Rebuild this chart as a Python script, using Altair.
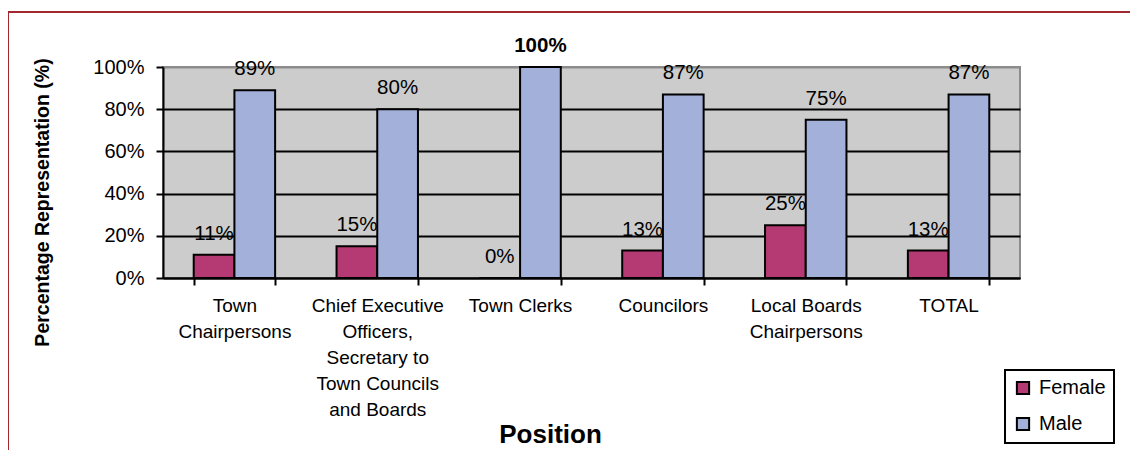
import altair as alt
import pandas as pd

categories = [
    "Town\nChairpersons",
    "Chief Executive\nOfficers,\nSecretary to\nTown Councils\nand Boards",
    "Town Clerks",
    "Councilors",
    "Local Boards\nChairpersons",
    "TOTAL",
]
female = [11, 15, 0, 13, 25, 13]
male = [89, 80, 100, 87, 75, 87]
series = ["Female", "Male"]
colors = ["#b53a73", "#a3b0da"]

rows = []
for c, f, m in zip(categories, female, male):
    rows.append({"position": c, "sex": "Female", "value": f})
    rows.append({"position": c, "sex": "Male", "value": m})
df = pd.DataFrame(rows)

FONT = "Liberation Sans"

x_enc = alt.X(
    "position:N",
    sort=categories,
    scale=alt.Scale(paddingInner=0.43, paddingOuter=0.215),
    axis=alt.Axis(
        title="Position",
        titleFontSize=26,
        titleFontWeight="bold",
        titleX=387,
        titleY=156,
        titleBaseline="middle",
        titleAlign="center",
        labelExpr="split(datum.label, '\\n')",
        labelAngle=0,
        labelFontSize=19,
        labelLineHeight=26,
        labelPadding=11,
        labelBaseline="top",
        tickBand="extent",
        tickSize=7,
        tickWidth=2,
        tickColor="black",
        domainColor="black",
        domainWidth=2,
        labelColor="black",
    ),
)
xo_enc = alt.XOffset("sex:N", sort=series, scale=alt.Scale(paddingInner=0, paddingOuter=0))
y_enc = alt.Y(
    "value:Q",
    scale=alt.Scale(domain=[0, 100], nice=False),
    axis=alt.Axis(
        title="Percentage Representation (%)",
        titleFontSize=19.5,
        titleFontWeight="bold",
        titleX=-121,
        titleY=135,
        titleAlign="center",
        titleBaseline="middle",
        values=[0, 20, 40, 60, 80, 100],
        labelExpr="datum.value + '%'",
        labelFontSize=20,
        labelPadding=12,
        labelColor="black",
        tickSize=7,
        tickWidth=2,
        tickColor="black",
        domainColor="black",
        domainWidth=2,
        grid=True,
        gridColor={"condition": {"test": "datum.value == 100", "value": "#8c8c8c"}, "value": "black"},
        gridWidth=2,
    ),
)

bars = alt.Chart(df).mark_bar(stroke="black", strokeWidth=2).encode(
    x=x_enc,
    xOffset=xo_enc,
    y=y_enc,
    color=alt.Color(
        "sex:N",
        scale=alt.Scale(domain=series, range=colors),
        legend=alt.Legend(
            title=None,
            orient="none",
            legendX=842,
            legendY=303,
            strokeColor="black",
            fillColor="white",
            padding=8,
            symbolType="square",
            symbolSize=150,
            symbolStrokeColor="black",
            symbolStrokeWidth=2,
            labelFontSize=20,
            labelColor="black",
            rowPadding=14,
            labelOffset=6,
        ),
    ),
)

base_text = alt.Chart(df).transform_calculate(label="datum.value + '%'")
text_normal = base_text.transform_filter("datum.value != 100").mark_text(
    fontSize=20.5, dy=-21, baseline="middle", color="black"
).encode(
    x=alt.X("position:N", sort=categories),
    xOffset=alt.XOffset("sex:N", sort=series),
    y="value:Q",
    text="label:N",
)
text_bold = base_text.transform_filter("datum.value == 100").mark_text(
    fontSize=20.5, dy=-21, baseline="middle", color="black", fontWeight="bold"
).encode(
    x=alt.X("position:N", sort=categories),
    xOffset=alt.XOffset("sex:N", sort=series),
    y="value:Q",
    text="label:N",
)

one = alt.Data(values=[{"k": 1}])
border_top = alt.Chart(one).mark_rule(color="#a0282e", strokeWidth=2).encode(
    x=alt.value(-155), x2=alt.value(980), y=alt.value(-55)
)
border_left = alt.Chart(one).mark_rule(color="#a0282e", strokeWidth=2).encode(
    x=alt.value(-155), y=alt.value(-55), y2=alt.value(390)
)

chart = alt.layer(bars, text_normal, text_bold, border_top, border_left).properties(
    width=857,
    height=211,
    autosize=alt.AutoSizeParams(type="none"),
    padding={"left": 155, "top": 59, "right": 110, "bottom": 172},
).configure(
    font=FONT,
    background="white",
).configure_view(
    fill="#cccccc",
    stroke="#8c8c8c",
    strokeWidth=2,
).configure_legend(
    strokeWidth=2,
)

chart.save("out.html", embed_options={"renderer": "svg", "actions": False})
